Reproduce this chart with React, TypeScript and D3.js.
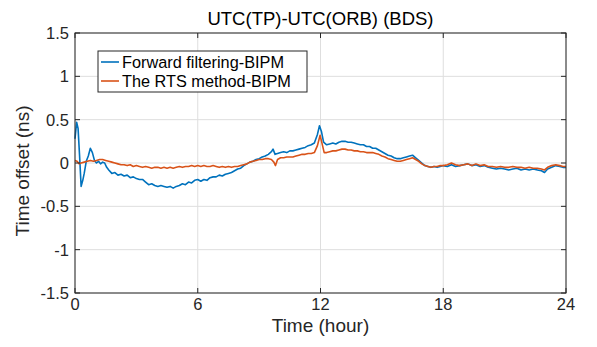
import React from 'react';
import * as d3 from 'd3';

// Forward filtering - BIPM (hours, ns)
const fwdHours = [
  0, 0.08, 0.15, 0.22, 0.3, 0.38, 0.45, 0.55, 0.65, 0.75, 0.85, 0.95, 1.05, 1.15, 1.25, 1.35, 1.45, 1.55, 1.65, 1.8,
  1.95, 2.1, 2.25, 2.4, 2.55, 2.7, 2.85, 3.0, 3.15, 3.3, 3.45, 3.6, 3.75, 3.9, 4.05, 4.2, 4.35, 4.5, 4.65, 4.8,
  4.95, 5.1, 5.25, 5.4, 5.55, 5.7, 5.85, 6.0, 6.15, 6.3, 6.45, 6.6, 6.75, 6.9, 7.05, 7.2, 7.35, 7.5, 7.65, 7.8,
  7.95, 8.1, 8.25, 8.4, 8.55, 8.7, 8.85, 9.0, 9.15, 9.3, 9.45, 9.6, 9.68, 9.78, 9.9, 10.05, 10.2, 10.35, 10.5, 10.65,
  10.8, 10.95, 11.1, 11.25, 11.4, 11.55, 11.7, 11.85, 11.95, 12.05, 12.15, 12.3, 12.45, 12.6, 12.75, 12.9, 13.05, 13.2, 13.35, 13.5,
  13.65, 13.8, 13.95, 14.1, 14.25, 14.4, 14.55, 14.7, 14.85, 15.0, 15.15, 15.3, 15.45, 15.6, 15.75, 15.9, 16.05, 16.2, 16.35, 16.5,
  16.65, 16.8, 16.95, 17.1, 17.25, 17.4, 17.55, 17.7, 17.85, 18.0, 18.2, 18.4, 18.6, 18.8, 19.0, 19.2, 19.4, 19.6, 19.8, 20.0,
  20.2, 20.4, 20.6, 20.8, 21.0, 21.2, 21.4, 21.6, 21.8, 22.0, 22.2, 22.4, 22.6, 22.8, 22.95, 23.1, 23.3, 23.5, 23.7, 23.85, 24.0,
];
const fwdOffset = [
  0.28, 0.47, 0.4, 0.1, -0.27, -0.2, -0.12, 0.02, 0.08, 0.17, 0.12, 0.03, 0.0, 0.02, -0.01, 0.01, 0.0, -0.05, -0.08, -0.12,
  -0.11, -0.14, -0.13, -0.15, -0.14, -0.17, -0.16, -0.18, -0.19, -0.19, -0.22, -0.25, -0.24, -0.26, -0.27, -0.26, -0.27, -0.28, -0.27, -0.29,
  -0.27, -0.26, -0.24, -0.25, -0.22, -0.23, -0.2, -0.19, -0.21, -0.19, -0.2, -0.17, -0.16, -0.16, -0.14, -0.15, -0.13, -0.12, -0.11, -0.09,
  -0.07, -0.06, -0.03, -0.01, 0.01, 0.02, 0.04, 0.05, 0.07, 0.08, 0.1, 0.13, 0.16, 0.1, 0.11, 0.12, 0.13, 0.12, 0.14, 0.14,
  0.15, 0.16, 0.17, 0.18, 0.2, 0.21, 0.23, 0.33, 0.43, 0.36, 0.24, 0.21, 0.22, 0.23, 0.22, 0.24, 0.25, 0.25, 0.24, 0.24,
  0.23, 0.22, 0.21, 0.21, 0.19, 0.19, 0.17, 0.17, 0.15, 0.13, 0.11, 0.09, 0.08, 0.06, 0.05, 0.05, 0.06, 0.07, 0.08, 0.09,
  0.06, 0.03, 0.0, -0.03, -0.04, -0.05, -0.04, -0.05, -0.04, -0.03, -0.04, -0.02, -0.04, -0.03, -0.02, -0.01, -0.03, -0.02, -0.04, -0.03,
  -0.05, -0.06, -0.07, -0.06, -0.07, -0.08, -0.07, -0.06, -0.08, -0.07, -0.08, -0.07, -0.08, -0.09, -0.11, -0.07, -0.05, -0.03, -0.04, -0.05, -0.05,
];

// The RTS method - BIPM (hours, ns)
const rtsHours = [
  0, 0.1, 0.2, 0.3, 0.45, 0.6, 0.75, 0.9, 1.05, 1.2, 1.35, 1.5, 1.65, 1.8, 1.95, 2.1, 2.25, 2.4, 2.55, 2.7,
  2.85, 3.0, 3.15, 3.3, 3.45, 3.6, 3.75, 3.9, 4.05, 4.2, 4.35, 4.5, 4.65, 4.8, 4.95, 5.1, 5.25, 5.4, 5.55, 5.7,
  5.85, 6.0, 6.15, 6.3, 6.45, 6.6, 6.75, 6.9, 7.05, 7.2, 7.35, 7.5, 7.65, 7.8, 7.95, 8.1, 8.25, 8.4, 8.55, 8.7,
  8.85, 9.0, 9.15, 9.3, 9.45, 9.6, 9.72, 9.8, 9.9, 10.05, 10.2, 10.35, 10.5, 10.65, 10.8, 10.95, 11.1, 11.25, 11.4, 11.55,
  11.7, 11.85, 11.98, 12.08, 12.18, 12.3, 12.45, 12.6, 12.75, 12.9, 13.05, 13.2, 13.35, 13.5, 13.65, 13.8, 13.95, 14.1, 14.25, 14.4,
  14.55, 14.7, 14.85, 15.0, 15.15, 15.3, 15.45, 15.6, 15.75, 15.9, 16.05, 16.2, 16.35, 16.5, 16.65, 16.8, 16.95, 17.1, 17.25, 17.4,
  17.55, 17.7, 17.85, 18.0, 18.2, 18.4, 18.6, 18.8, 19.0, 19.2, 19.4, 19.6, 19.8, 20.0, 20.2, 20.4, 20.6, 20.8, 21.0, 21.2,
  21.4, 21.6, 21.8, 22.0, 22.2, 22.4, 22.6, 22.8, 22.95, 23.1, 23.3, 23.5, 23.7, 23.85, 24.0,
];
const rtsOffset = [
  0.03, 0.02, -0.01, 0.0, 0.01, 0.02, 0.03, 0.02, 0.03, 0.04, 0.04, 0.03, 0.02, 0.01, 0.0, -0.01, -0.02, -0.02, -0.03, -0.02,
  -0.04, -0.03, -0.04, -0.05, -0.04, -0.05, -0.06, -0.05, -0.05, -0.06, -0.05, -0.06, -0.05, -0.06, -0.05, -0.04, -0.05, -0.04, -0.04, -0.03,
  -0.04, -0.03, -0.04, -0.03, -0.04, -0.04, -0.03, -0.04, -0.05, -0.04, -0.05, -0.04, -0.05, -0.04, -0.04, -0.03, -0.02, -0.01, 0.01, 0.02,
  0.03, 0.04, 0.04, 0.05, 0.05, 0.04, 0.01, -0.03, 0.04, 0.06, 0.06, 0.07, 0.07, 0.07, 0.08, 0.09, 0.1, 0.1, 0.11, 0.11,
  0.12, 0.2, 0.32, 0.22, 0.12, 0.12, 0.13, 0.14, 0.14, 0.15, 0.16, 0.16, 0.15, 0.15, 0.14, 0.14, 0.13, 0.13, 0.12, 0.12,
  0.12, 0.11, 0.1, 0.08, 0.07, 0.05, 0.04, 0.03, 0.02, 0.02, 0.03, 0.04, 0.05, 0.06, 0.04, 0.02, -0.01, -0.03, -0.04, -0.05,
  -0.04, -0.04, -0.03, -0.03, -0.02, 0.0, -0.02, -0.03, -0.02, -0.01, -0.03, -0.01, -0.03, -0.02, -0.04, -0.04, -0.05, -0.04, -0.05, -0.05,
  -0.04, -0.05, -0.05, -0.06, -0.05, -0.06, -0.06, -0.07, -0.08, -0.05, -0.03, -0.02, -0.03, -0.04, -0.04,
];

const xTicks = [0, 6, 12, 18, 24];
const yTicks = [-1.5, -1, -0.5, 0, 0.5, 1, 1.5];
const seriesNames = ['Forward filtering-BIPM', 'The RTS method-BIPM'];
const seriesColors = ['#0072BD', '#D95319'];

const W = 597;
const H = 347;
const margin = { top: 33, right: 31, bottom: 54, left: 75 };
const FONT = 'Arial, "Liberation Sans", sans-serif';

export default function App() {
  const innerW = W - margin.left - margin.right;
  const innerH = H - margin.top - margin.bottom;

  const x = d3.scaleLinear().domain([0, 24]).range([0, innerW]);
  const y = d3.scaleLinear().domain([-1.5, 1.5]).range([innerH, 0]);

  const line = d3
    .line<[number, number]>()
    .x((d) => x(d[0]))
    .y((d) => y(d[1]));

  const fwd = fwdHours.map((h, i) => [h, fwdOffset[i]] as [number, number]);
  const rts = rtsHours.map((h, i) => [h, rtsOffset[i]] as [number, number]);

  const tick = 5;
  const axisColor = '#262626';

  return (
    <svg
      width={W}
      height={H}
      style={{ position: 'absolute', left: 0, top: 0, background: '#fff' }}
      fontFamily={FONT}
    >
      <text x={margin.left + innerW / 2} y={25} textAnchor="middle" fontSize={18.5} fill="#000">
        UTC(TP)-UTC(ORB) (BDS)
      </text>
      <g transform={`translate(${margin.left},${margin.top})`}>
        {/* grid */}
        {xTicks.map((t) => (
          <line key={'gx' + t} x1={x(t)} x2={x(t)} y1={0} y2={innerH} stroke="#dedede" strokeWidth={1} />
        ))}
        {yTicks.map((t) => (
          <line key={'gy' + t} x1={0} x2={innerW} y1={y(t)} y2={y(t)} stroke="#dedede" strokeWidth={1} />
        ))}

        {/* series */}
        <path d={line(fwd) || ''} fill="none" stroke={seriesColors[0]} strokeWidth={1.6} strokeLinejoin="round" />
        <path d={line(rts) || ''} fill="none" stroke={seriesColors[1]} strokeWidth={1.6} strokeLinejoin="round" />

        {/* box */}
        <rect x={0} y={0} width={innerW} height={innerH} fill="none" stroke={axisColor} strokeWidth={1} />

        {/* ticks */}
        {xTicks.map((t) => (
          <g key={'tx' + t}>
            <line x1={x(t)} x2={x(t)} y1={innerH} y2={innerH - tick} stroke={axisColor} />
            <line x1={x(t)} x2={x(t)} y1={0} y2={tick} stroke={axisColor} />
            <text x={x(t)} y={innerH + 17} textAnchor="middle" fontSize={16.5} fill="#262626">
              {t}
            </text>
          </g>
        ))}
        {yTicks.map((t) => (
          <g key={'ty' + t}>
            <line x1={0} x2={tick} y1={y(t)} y2={y(t)} stroke={axisColor} />
            <line x1={innerW} x2={innerW - tick} y1={y(t)} y2={y(t)} stroke={axisColor} />
            <text x={-6} y={y(t) + 6} textAnchor="end" fontSize={16.5} fill="#262626">
              {t}
            </text>
          </g>
        ))}

        {/* axis labels */}
        <text x={innerW / 2} y={innerH + 39} textAnchor="middle" fontSize={19} fill="#262626">
          Time (hour)
        </text>
        <text
          transform={`translate(${-46},${innerH / 2 + 8}) rotate(-90)`}
          textAnchor="middle"
          fontSize={19}
          fill="#262626"
        >
          Time offset (ns)
        </text>

        {/* legend */}
        <g transform={`translate(${98 - margin.left},${51 - margin.top})`}>
          <rect x={0} y={0} width={209} height={41} fill="#fff" stroke={axisColor} strokeWidth={1} />
          {seriesNames.map((name, i) => (
            <g key={name} transform={`translate(0,${11 + i * 19})`}>
              <line x1={3} x2={21} y1={0} y2={0} stroke={seriesColors[i]} strokeWidth={1.6} />
              <text x={24} y={6} fontSize={16.3} fill="#000">
                {name}
              </text>
            </g>
          ))}
        </g>
      </g>
    </svg>
  );
}
